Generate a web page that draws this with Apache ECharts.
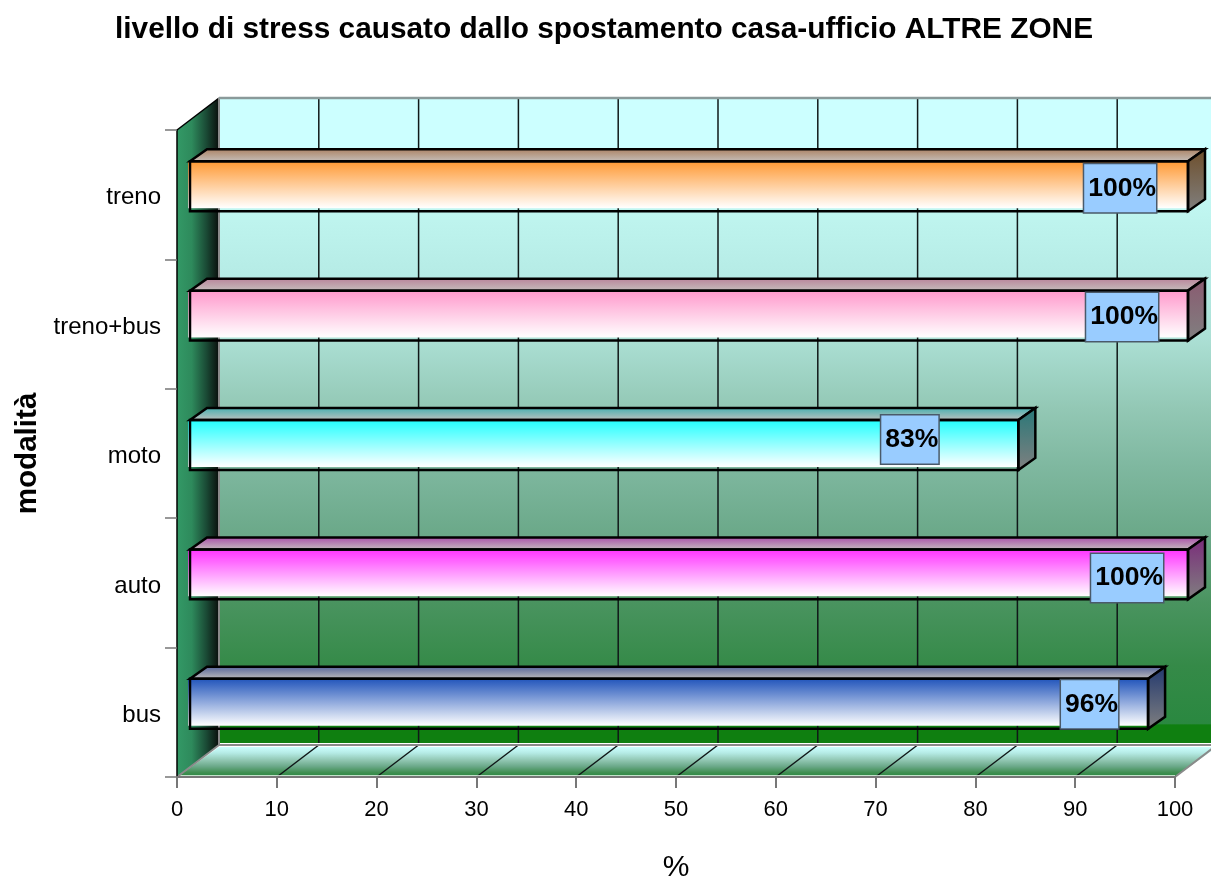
<!DOCTYPE html>
<html><head><meta charset="utf-8">
<style>html,body{margin:0;padding:0;background:#fff}#c{width:1211px;height:881px}</style>
<script src="https://cdn.jsdelivr.net/npm/echarts@6/dist/echarts.min.js"></script>
</head><body><div id="c"></div>
<script>
const categories = ['bus','auto','moto','treno+bus','treno'];
const values = [96,100,83,100,100];
const labels = ['96%','100%','83%','100%','100%'];
const xTicks = [0,10,20,30,40,50,60,70,80,90,100];
const frontColors = ['#2255BB','#FF33FF','#22FFFF','#FF99CC','#FF9933'];
const topColors = ['#4F5F98','#A848A8','#3FAFAF','#B88098','#AA7F5F'];
const sideColors = ['#22386E','#7A2A7A','#287878','#8A5A70','#6E4E2A'];
const labelShiftX = [-30,-25,-80,-30,-32];
const labelShiftY = [0,3,-6,1,1.5];

const FONT = '"Liberation Sans", Arial, sans-serif';
const WALL_DX = 42, WALL_DY = 32;
const BAR_DX = 13, BAR_DY = -8.5, DEPTH_DX = 17, DEPTH_DY = 12, BAR_RATIO = 0.386;
const toStops = a => a.map(s => ({offset:s[0],color:s[1]}));
const wallStops = toStops([[0,'#CCFFFF'],[.08,'#CCFFFF'],[.18,'#BFF5EF'],[.28,'#B5EBE5'],[.37,'#ACE0D5'],[.48,'#93C8B5'],[.57,'#7FB8A0'],[.68,'#6AA888'],[.78,'#4A9460'],[.88,'#358A48'],[.97,'#2A8840'],[.972,'#0F7F10'],[1,'#0F7F10']]);
const floorStops = toStops([[0,'#CCFFFF'],[.2,'#B5EBE5'],[.45,'#8FC5B0'],[.65,'#6AA888'],[.85,'#408F52'],[1,'#2A8840']]);
const sideWallStops = toStops([[0,'#339966'],[.35,'#2E8A5C'],[.7,'#1A4A35'],[1,'#0A0F0C']]);
const grad = (x2, y2, a, b) => ({type:'linear',x:0,y:0,x2,y2,colorStops:[{offset:0,color:a},{offset:1,color:b}]});
const vgrad = stops => ({type:'linear',x:0,y:0,x2:0,y2:1,colorStops:stops});
const poly = (points, fill, stroke, lw) => ({type:'polygon',shape:{points},style:{fill:fill||'none',stroke:stroke||'none',lineWidth:lw||0}});
const line = (x1,y1,x2,y2,stroke,lw) => ({type:'line',shape:{x1,y1,x2,y2},style:{stroke,lineWidth:lw}});

function renderBox(params, api) {
  const cs = params.coordSys;
  const L = cs.x, R = cs.x + cs.width, T = cs.y, B = cs.y + cs.height;
  const kids = [];
  kids.push({type:'rect',shape:{x:L+WALL_DX,y:T-WALL_DY,width:cs.width,height:cs.height-2},style:{fill:vgrad(wallStops)}});
  xTicks.forEach(v => {
    const x = api.coord([v, 0])[0];
    if (v > 0) kids.push(line(x+WALL_DX,T-WALL_DY,x+WALL_DX,B-WALL_DY,'#101818',1.5));
  });
  kids.push({type:'rect',shape:{x:L+WALL_DX,y:B-WALL_DY-2,width:cs.width,height:4},style:{fill:'#fff'}});
  kids.push(poly([[L,B],[R,B],[R+WALL_DX,B-WALL_DY+2],[L+WALL_DX,B-WALL_DY+2]],vgrad(floorStops)));
  xTicks.forEach(v => {
    const x = api.coord([v, 0])[0];
    if (v > 0 && v < 100) kids.push(line(x,B,x+WALL_DX,B-WALL_DY,'#101818',1.5));
  });
  kids.push(line(R,B,R+WALL_DX,B-WALL_DY,'#8a8a8a',2));
  kids.push(line(L+WALL_DX,B-WALL_DY,R+WALL_DX,B-WALL_DY,'#8a8a8a',2));
  kids.push(line(L,B-1,R,B-1,'#f4fff8',1.5));
  kids.push(poly([[L,T],[L+WALL_DX,T-WALL_DY],[L+WALL_DX,B-WALL_DY],[L,B]],{type:'linear',x:0,y:0,x2:1,y2:0,colorStops:sideWallStops}));
  kids.push(line(L,T,L+WALL_DX,T-WALL_DY,'#000',1.5));
  kids.push(line(L,B,L+WALL_DX,B-WALL_DY,'#8a8a8a',2));
  kids.push(line(L+WALL_DX,T-WALL_DY,L+WALL_DX,B-WALL_DY,'#8a8a8a',2));
  kids.push(line(L+WALL_DX,T-WALL_DY,R+WALL_DX,T-WALL_DY,'#8a9a9a',2.5));
  return {type:'group',children:kids};
}

function renderBar(params, api) {
  const i = params.dataIndex;
  const end = api.coord([api.value(0), i]);
  const start = api.coord([0, i]);
  const h = api.size([0,1])[1] * BAR_RATIO;
  const x0 = start[0] + BAR_DX, x1 = end[0] + BAR_DX;
  const cy = end[1] + BAR_DY, y0 = cy - h/2, y1 = cy + h/2;
  const dx = DEPTH_DX, dy = DEPTH_DY;
  const kids = [
    {type:'rect',shape:{x:x0-2,y:y0,width:x1-x0+1,height:h-3},style:{fill:grad(0,1,frontColors[i],'#FFFFFF')}},
    poly([[x0,y0],[x1,y0],[x1+dx,y0-dy],[x0+dx,y0-dy]],grad(0,1,topColors[i],'#C6C2BE'),'#000',2.5),
    poly([[x1,y0],[x1+dx,y0-dy],[x1+dx,y1-dy],[x1,y1]],grad(0,1,sideColors[i],'#808080'),'#000',2.5),
    {type:'rect',shape:{x:x0,y:y0,width:x1-x0,height:h},style:{fill:'none',stroke:'#000',lineWidth:2.5}},
    {type:'text',x:x1+labelShiftX[i],y:cy+labelShiftY[i]+0.5,style:{
      text:labels[i],align:'right',verticalAlign:'middle',fill:'#000',
      font:'bold 26.5px '+FONT,backgroundColor:'#99CCFF',borderColor:'#4a5a6a',borderWidth:1.5,
      padding:[11,0,10,4]}}
  ];
  return {type:'group',children:kids};
}

const chart = echarts.init(document.getElementById('c'),null,{renderer:'canvas'});
chart.setOption({
  animation:false,
  backgroundColor:'#fff',
  title:{text:'livello di stress causato dallo spostamento casa-ufficio ALTRE ZONE',left:110,top:10,
    textStyle:{fontFamily:FONT,fontWeight:'bold',fontSize:29.8,color:'#000'}},
  grid:{left:177,top:130,width:998,height:647,containLabel:false,outerBoundsMode:'none'},
  xAxis:{type:'value',min:0,max:100,interval:10,name:'%',nameLocation:'middle',nameGap:76,
    nameTextStyle:{fontFamily:FONT,fontSize:30,color:'#000'},
    axisLine:{show:true,lineStyle:{color:'#777',width:2}},
    axisTick:{show:true,length:11,lineStyle:{color:'#777',width:2}},
    axisLabel:{fontFamily:FONT,fontSize:22,color:'#000',margin:22},splitLine:{show:false},z:8},
  yAxis:{type:'category',data:categories,name:'modalità',nameLocation:'middle',nameGap:130,nameRotate:90,
    nameTextStyle:{fontFamily:FONT,fontSize:29.6,fontWeight:'bold',color:'#000'},
    axisLine:{show:true,lineStyle:{color:'#000',width:1.5}},
    axisTick:{show:true,length:12,lineStyle:{color:'#777',width:1.5}},
    axisLabel:{margin:16,formatter:'{a|{value}}',
      rich:{a:{fontFamily:FONT,fontSize:24,color:'#000',padding:[6,0,0,0]}}},z:8},
  series:[
    {type:'custom',name:'box',coordinateSystem:'cartesian2d',data:[[0,0]],renderItem:renderBox,clip:false,silent:true,z:1},
    {type:'custom',name:'stress',coordinateSystem:'cartesian2d',data:values.map((v,i)=>[v,i]),renderItem:renderBar,clip:false,silent:true,z:2}
  ]
});
</script></body></html>
